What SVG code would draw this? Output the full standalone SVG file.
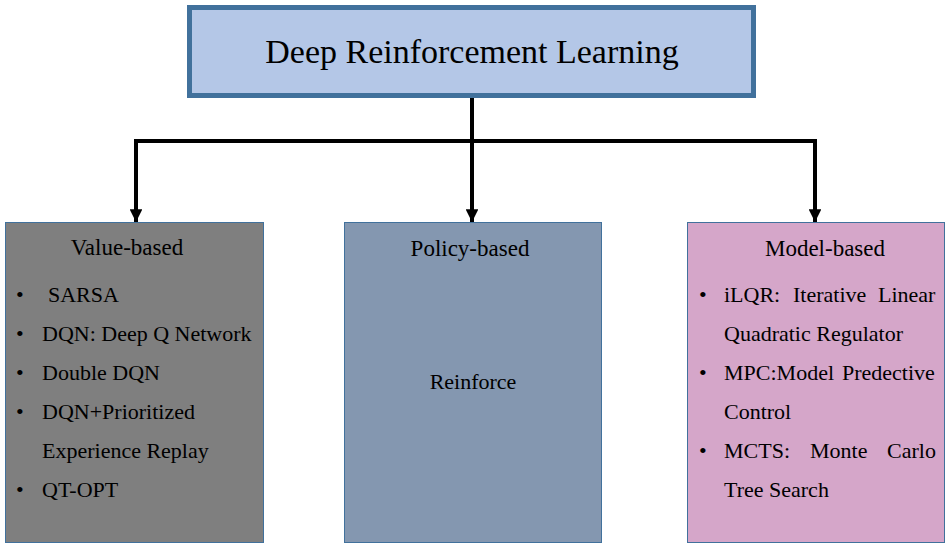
<svg xmlns="http://www.w3.org/2000/svg" width="950" height="548" viewBox="0 0 950 548">
<defs>
<style>
text{font-family:"Liberation Serif","Times New Roman",serif;fill:#000;}
.t{font-size:34px;}
.h{font-size:23px;text-anchor:middle;}
.i{font-size:22px;}
.conn{stroke:#000;stroke-width:4;fill:none;}
</style>
<marker id="ah" viewBox="0 0 10 10" refX="10" refY="5" markerWidth="3.2" markerHeight="3.2" orient="auto" markerUnits="strokeWidth">
<path d="M0,0 L10,5 L0,10 Z" fill="#000"/>
</marker>
</defs>
<rect width="950" height="548" fill="#fff"/>
<g id="connectors">
<line class="conn" x1="472" y1="97" x2="472" y2="222" marker-end="url(#ah)"/>
<polyline class="conn" points="136,222 136,141 815,141 815,222" marker-end="url(#ah)"/>
<line class="conn" x1="136" y1="143" x2="136" y2="222" marker-end="url(#ah)"/>
</g>
<g id="root">
<rect x="189.5" y="7.5" width="564" height="88" fill="#b4c7e7" stroke="#41719c" stroke-width="5"/>
<text class="t" x="472" y="63" text-anchor="middle">Deep Reinforcement Learning</text>
</g>
<g id="value-based">
<rect x="5.5" y="222.5" width="258" height="320" fill="#7f7f7f" stroke="#41719c" stroke-width="1"/>
<text class="h" x="127" y="255">Value-based</text>
<text class="i" x="16" y="302">•</text><text class="i" x="48" y="302">SARSA</text>
<text class="i" x="16" y="341">•</text><text class="i" x="42" y="341">DQN: Deep Q Network</text>
<text class="i" x="16" y="380">•</text><text class="i" x="42" y="380">Double DQN</text>
<text class="i" x="16" y="419">•</text><text class="i" x="42" y="419">DQN+Prioritized</text>
<text class="i" x="42" y="458">Experience Replay</text>
<text class="i" x="16" y="497">•</text><text class="i" x="42" y="497">QT-OPT</text>
</g>
<g id="policy-based">
<rect x="344.5" y="222.5" width="257" height="320" fill="#8497b0" stroke="#41719c" stroke-width="1"/>
<text class="h" x="470" y="256">Policy-based</text>
<text class="i" x="473" y="389" text-anchor="middle">Reinforce</text>
</g>
<g id="model-based">
<rect x="687.5" y="222.5" width="257" height="320" fill="#d5a6c9" stroke="#41719c" stroke-width="1"/>
<text class="h" x="825" y="256">Model-based</text>
<text class="i" x="699" y="302">•</text>
<text class="i" y="302"><tspan x="724">iLQR:</tspan><tspan x="793">Iterative</tspan><tspan x="878">Linear</tspan></text>
<text class="i" x="724" y="341">Quadratic Regulator</text>
<text class="i" x="699" y="380">•</text>
<text class="i" y="380"><tspan x="724">MPC:Model</tspan><tspan x="842">Predective</tspan></text>
<text class="i" x="724" y="419">Control</text>
<text class="i" x="699" y="458">•</text>
<text class="i" y="458"><tspan x="724">MCTS:</tspan><tspan x="810">Monte</tspan><tspan x="887">Carlo</tspan></text>
<text class="i" x="724" y="497">Tree Search</text>
</g>
</svg>
